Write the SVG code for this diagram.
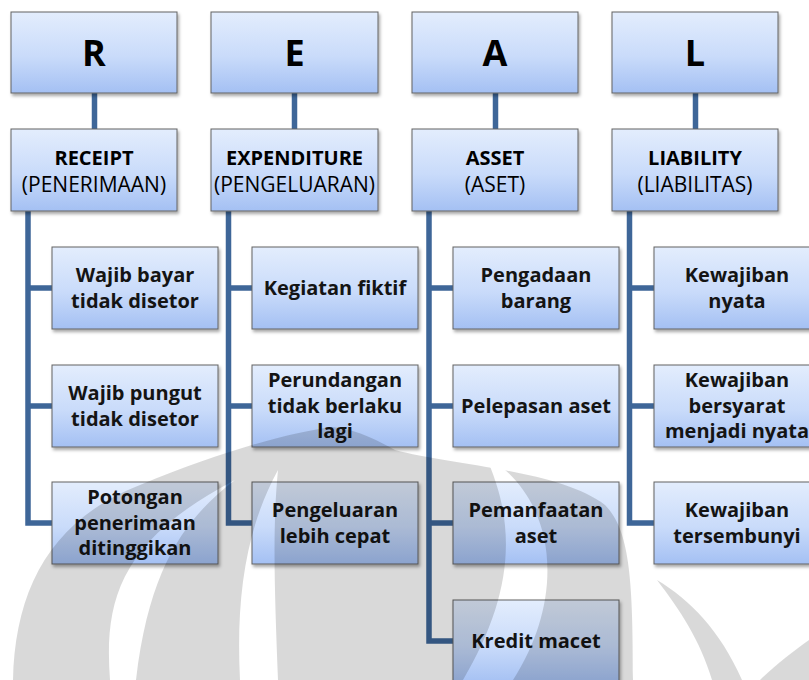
<svg xmlns="http://www.w3.org/2000/svg" width="809" height="680" viewBox="0 0 809 680">
<defs>
  <linearGradient id="boxfill" x1="0" y1="0" x2="0" y2="1">
    <stop offset="0" stop-color="#e3edfd"/>
    <stop offset="0.55" stop-color="#c9dbfa"/>
    <stop offset="1" stop-color="#a4c0f3"/>
  </linearGradient>
  <filter id="shadow" x="-10%" y="-10%" width="125%" height="140%">
    <feDropShadow dx="1.5" dy="2.5" stdDeviation="1.5" flood-color="#000" flood-opacity="0.35"/>
  </filter>
  <mask id="wmcut" maskUnits="userSpaceOnUse" x="0" y="0" width="809" height="680">
    <rect x="0" y="0" width="809" height="680" fill="#fff"/>
    <path d="M110 680 C104 600 120 540 235 480 C190 515 150 560 136 680 Z" fill="#000"/>
    <path d="M240 680 C236 600 245 530 278 470 C272 530 275 600 278 680 Z" fill="#000"/>
    <path d="M485 455 C520 530 510 600 463 680 L513 680 C565 600 560 500 485 455 Z" fill="#000"/>
  </mask>
</defs>
<style>
  .box{fill:url(#boxfill);stroke:#626262;stroke-width:1;filter:url(#shadow)}
  .conn{fill:none;stroke:#3e6698;stroke-width:5.5;stroke-linejoin:miter}
  .big{font-family:"Open Sans","Liberation Sans",sans-serif;font-weight:700;font-size:36px;text-anchor:middle;fill:#000}
  .t1{font-family:"Open Sans","Liberation Sans",sans-serif;font-weight:700;font-size:20px;text-anchor:middle;fill:#000}
  .t2{font-family:"Open Sans","Liberation Sans",sans-serif;font-weight:400;font-size:21px;text-anchor:middle;fill:#000}
  .c{font-family:"Open Sans","Liberation Sans",sans-serif;font-weight:700;font-size:20px;text-anchor:middle;fill:#141414}
  .wm{fill:#000;fill-opacity:0.15}
</style>
<rect x="0" y="0" width="809" height="680" fill="#fff"/>

<g id="connectors">
  <path class="conn" d="M94.5 93 V129"/>
  <path class="conn" d="M294.5 93 V129"/>
  <path class="conn" d="M495.5 93 V129"/>
  <path class="conn" d="M695.5 93 V129"/>
  <path class="conn" d="M28 211 V523 H52 M28 288 H52 M28 406 H52"/>
  <path class="conn" d="M228.5 211 V523 H252 M228.5 288 H252 M228.5 406 H252"/>
  <path class="conn" d="M429 211 V641 H453 M429 288 H453 M429 406 H453 M429 523 H453"/>
  <path class="conn" d="M629.5 211 V523 H654 M629.5 288 H654 M629.5 406 H654"/>
</g>

<g id="node-R">
  <rect class="box" x="11" y="12" width="166" height="81"/>
  <text class="big" x="94" y="66">R</text>
</g>
<g id="node-E">
  <rect class="box" x="211" y="12" width="167" height="81"/>
  <text class="big" x="294.5" y="66">E</text>
</g>
<g id="node-A">
  <rect class="box" x="412" y="12" width="166" height="81"/>
  <text class="big" x="495" y="66">A</text>
</g>
<g id="node-L">
  <rect class="box" x="612" y="12" width="166" height="81"/>
  <text class="big" x="695" y="66">L</text>
</g>

<g id="node-receipt">
  <rect class="box" x="11" y="129" width="166" height="82"/>
  <text class="t1" x="94" y="165">RECEIPT</text>
  <text class="t2" x="94" y="192">(PENERIMAAN)</text>
</g>
<g id="node-expenditure">
  <rect class="box" x="211" y="129" width="167" height="82"/>
  <text class="t1" x="294.5" y="165">EXPENDITURE</text>
  <text class="t2" x="294.5" y="192">(PENGELUARAN)</text>
</g>
<g id="node-asset">
  <rect class="box" x="412" y="129" width="166" height="82"/>
  <text class="t1" x="495" y="165">ASSET</text>
  <text class="t2" x="495" y="192">(ASET)</text>
</g>
<g id="node-liability">
  <rect class="box" x="612" y="129" width="166" height="82"/>
  <text class="t1" x="695" y="165">LIABILITY</text>
  <text class="t2" x="695" y="192">(LIABILITAS)</text>
</g>

<g id="node-r1">
  <rect class="box" x="52" y="247" width="166" height="82"/>
  <text class="c" x="135" y="282">Wajib bayar</text>
  <text class="c" x="135" y="308">tidak disetor</text>
</g>
<g id="node-r2">
  <rect class="box" x="52" y="365" width="166" height="82"/>
  <text class="c" x="135" y="400">Wajib pungut</text>
  <text class="c" x="135" y="426">tidak disetor</text>
</g>
<g id="node-r3">
  <rect class="box" x="52" y="482" width="166" height="82"/>
  <text class="c" x="135" y="504">Potongan</text>
  <text class="c" x="135" y="530">penerimaan</text>
  <text class="c" x="135" y="555">ditinggikan</text>
</g>

<g id="node-e1">
  <rect class="box" x="252" y="247" width="166" height="82"/>
  <text class="c" x="335" y="295">Kegiatan fiktif</text>
</g>
<g id="node-e2">
  <rect class="box" x="252" y="365" width="166" height="82"/>
  <text class="c" x="335" y="387">Perundangan</text>
  <text class="c" x="335" y="413">tidak berlaku</text>
  <text class="c" x="335" y="438">lagi</text>
</g>
<g id="node-e3">
  <rect class="box" x="252" y="482" width="166" height="82"/>
  <text class="c" x="335" y="517">Pengeluaran</text>
  <text class="c" x="335" y="543">lebih cepat</text>
</g>

<g id="node-a1">
  <rect class="box" x="453" y="247" width="166" height="82"/>
  <text class="c" x="536" y="282">Pengadaan</text>
  <text class="c" x="536" y="308">barang</text>
</g>
<g id="node-a2">
  <rect class="box" x="453" y="365" width="166" height="82"/>
  <text class="c" x="536" y="413">Pelepasan aset</text>
</g>
<g id="node-a3">
  <rect class="box" x="453" y="482" width="166" height="82"/>
  <text class="c" x="536" y="517">Pemanfaatan</text>
  <text class="c" x="536" y="543">aset</text>
</g>
<g id="node-a4">
  <rect class="box" x="453" y="600" width="166" height="84"/>
  <text class="c" x="536" y="648">Kredit macet</text>
</g>

<g id="node-l1">
  <rect class="box" x="654" y="247" width="166" height="82"/>
  <text class="c" x="737" y="282">Kewajiban</text>
  <text class="c" x="737" y="308">nyata</text>
</g>
<g id="node-l2">
  <rect class="box" x="654" y="365" width="166" height="82"/>
  <text class="c" x="737" y="387">Kewajiban</text>
  <text class="c" x="737" y="413">bersyarat</text>
  <text class="c" x="737" y="438">menjadi nyata</text>
</g>
<g id="node-l3">
  <rect class="box" x="654" y="482" width="166" height="82"/>
  <text class="c" x="737" y="517">Kewajiban</text>
  <text class="c" x="737" y="543">tersembunyi</text>
</g>

<g id="watermark">
  <path class="wm" mask="url(#wmcut)" d="M13 680 C15 590 50 520 140 485 C220 452 290 432 333 427 C360 430 380 442 395 450 C450 465 560 470 605 505 C630 530 633 580 633 680 Z"/>
  <path class="wm" d="M657 580 C680 610 700 640 712 680 L742 680 C720 630 690 600 657 580 Z"/>
  <path class="wm" d="M760 680 C775 665 795 650 809 640 L809 680 Z"/>
</g>
</svg>
